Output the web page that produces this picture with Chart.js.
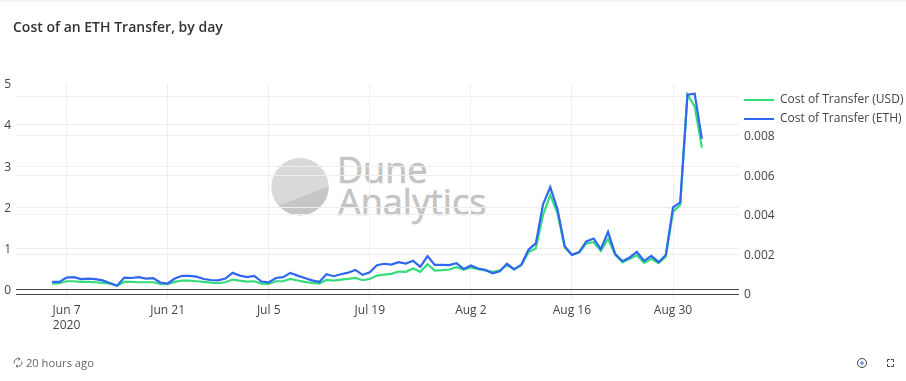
<!DOCTYPE html>
<html>
<head>
<meta charset="utf-8">
<title>Cost of an ETH Transfer, by day</title>
<script src="https://cdn.jsdelivr.net/npm/chart.js@4"></script>
<style>
html,body{margin:0;padding:0;background:#fff;width:906px;height:381px;overflow:hidden;font-family:"Open Sans",sans-serif}
#strip{position:absolute;left:0;top:0;width:906px;height:2px;background:#f5f5f5}
#mark{position:absolute;left:0;top:0;z-index:0}
#c{position:absolute;left:0;top:0;z-index:1}
#foot{position:absolute;left:13px;top:355px;font-size:11.2px;line-height:16px;color:#666;z-index:2;white-space:nowrap}
#foot svg{vertical-align:-1px;margin-right:0}
#icons{position:absolute;left:0;top:0;z-index:2}
</style>
</head>
<body>
<div id="strip"></div>
<svg id="mark" width="906" height="381">
  <circle cx="300" cy="186.7" r="28.7" fill="#d9d9d9"/>
  <path d="M278.500 205.500 L328.700 186.500 A28.700 28.700 0 0 1 278.500 205.500 Z" fill="#c6c6c6"/>
  <text x="337" y="183" font-family="Open Sans" font-size="36" fill="#c4c4c4" stroke="#c4c4c4" stroke-width="0.6">Dune</text>
  <text x="338" y="215" font-family="Open Sans" font-size="36" fill="#c4c4c4" stroke="#c4c4c4" stroke-width="0.6">Analytics</text>
</svg>
<canvas id="c" width="906" height="381"></canvas>
<div id="foot"><svg width="10" height="11" viewBox="0 0 10 11" fill="none" stroke="#666" stroke-width="1"><path d="M1.200 6.500A3.900 3.900 0 0 1 6.500 1.900M8.800 4.500A3.900 3.900 0 0 1 3.500 9.100"/><path d="M5.500 0.500L7 2L5.300 3.200M4.500 10.500L3 9L4.700 7.800"/></svg> 20 hours ago</div>
<svg id="icons" width="906" height="381" fill="none" stroke="#444" stroke-width="1">
  <circle cx="862" cy="363" r="4.500"/><path d="M860 363h4M862 361v4" stroke="#3a6fd8"/>
  <path d="M887.500 362v-2.500h2.500M891 359.500h2.500v2.500M893.500 364v2.500h-2.500M890 366.500h-2.500v-2.500"/>
</svg>
<script>
const titleText = "Cost of an ETH Transfer, by day";
const seriesNames = ["Cost of Transfer (USD)", "Cost of Transfer (ETH)"];

// Days counted from Jun 5 2020 (one value per day, Jun 5 - Sep 3)
const tickDays = [2, 16, 30, 44, 58, 72, 86];
const tickLabels = [["Jun 7", "2020"], "Jun 21", "Jul 5", "Jul 19", "Aug 2", "Aug 16", "Aug 30"];

const usdValues = [
  .146,.154,.203,.203,.187,.187,.179,.163,.146,.098,.187,.187,.179,.179,.179,.138,.13,.187,.22,.22,
  .203,.187,.171,.154,.179,.244,.22,.195,.203,.146,.138,.203,.203,.26,.22,.187,.163,.146,.236,.22,
  .244,.26,.285,.228,.26,.341,.366,.382,.439,
  .431,.512,.431,.618,.463,.472,.488,.545,.488,
  .537,.496,.463,.431,.463,.593,.496,.593,.911,1.0,
  1.813,2.3,1.854,1.024,.846,.902,1.122,1.154,.943,1.228,
  .846,.659,.748,.837,.65,.748,.642,.797,1.894,2.057,
  4.74,4.45,3.45
];
const ethValues = [
  .00061,.00061,.00083,.00085,.00075,.00078,.00075,.00069,.00056,.00042,.00083,.00081,.00085,.00078,.0008,.00058,.00053,.00078,.00092,.00092,
  .00088,.00076,.00071,.00069,.00078,.00107,.00093,.00086,.00092,.00063,.00059,.00081,.00085,.00107,.00093,.00081,.00069,.00061,.001,.0009,
  .001,.00108,.00122,.00097,.0011,.00146,.00153,.00149,.00161,
  .00154,.00168,.00137,.00192,.00147,.00147,.00146,.00156,.00127,
  .00144,.00129,.00122,.00105,.00115,.00153,.00125,.00149,.00225,.00256,
  .00454,.00541,.00429,.00242,.00198,.00212,.00266,.00281,.00227,.00314,
  .00202,.00166,.00185,.00214,.00168,.00193,.00161,.00197,.00439,.00464,
  .01009,.01014,.00785
];

const leftTicks = [0, 1, 2, 3, 4, 5];
const rightTicks = [0, 0.002, 0.004, 0.006, 0.008, 0.01];
const rightTickLabels = ["0", "0.002", "0.004", "0.006", "0.008", ""];

const GRID = "#eeeeee", ZERO = "#444444", TEXT = "#444444", FONT = "'Open Sans', sans-serif";
const toPoints = vals => vals.map((y, x) => ({x, y}));

const boxPlacer = {
  id: "boxPlacer",
  afterLayout(chart) {
    const l = chart.legend;
    const w = l.width, h = l.height;
    l.left = 737; l.right = 737 + w; l.top = 87; l.bottom = 87 + h;
    chart.titleBlock.left = 13;
  },
  beforeDraw(chart) {
    ["y", "y2"].forEach(id => {
      chart.scales[id].getLabelItems().forEach(item => { item.options.translation[1] += 1; });
    });
  }
};

new Chart(document.getElementById("c"), {
  type: "line",
  data: {
    datasets: [
      {label: seriesNames[0], data: toPoints(usdValues), yAxisID: "y", order: 2,
       borderColor: "#35dc7c", backgroundColor: "#35dc7c", borderWidth: 2.2, pointRadius: 0, tension: 0},
      {label: seriesNames[1], data: toPoints(ethValues), yAxisID: "y2", order: 1,
       borderColor: "#2f66f2", backgroundColor: "#2f66f2", borderWidth: 2.2, pointRadius: 0, tension: 0}
    ]
  },
  plugins: [boxPlacer],
  options: {
    responsive: false,
    animation: false,
    events: [],
    layout: {padding: 0},
    plugins: {
      title: {display: true, text: titleText, align: "start", color: "#333",
              font: {family: FONT, size: 14, weight: "600", lineHeight: 1.2},
              padding: {top: 20, bottom: 47}},
      legend: {position: "chartArea", align: "start",
               labels: {boxWidth: 30, boxHeight: 0, padding: 7, color: TEXT,
                        font: {family: FONT, size: 12},
                        sort: (a, b) => a.datasetIndex - b.datasetIndex}},
      tooltip: {enabled: false}
    },
    scales: {
      x: {
        type: "linear", min: -5, max: 95.14,
        border: {display: false},
        afterBuildTicks: a => { a.ticks = tickDays.map(value => ({value})); },
        afterFit: a => { a.height = 87; },
        grid: {color: GRID, tickColor: GRID, tickLength: 5, lineWidth: 1},
        ticks: {autoSkip: false, maxRotation: 0, padding: 4, color: TEXT,
                font: {family: FONT, size: 12, lineHeight: 1.25},
                callback: (v) => tickLabels[tickDays.indexOf(v)]}
      },
      y: {
        position: "left", min: -0.107, max: 5,
        border: {display: false},
        afterBuildTicks: a => { a.ticks = leftTicks.map(value => ({value})); },
        afterFit: a => { a.width = 16; },
        grid: {drawTicks: false, lineWidth: 1,
               color: c => c.tick.value === 0 ? ZERO : (c.tick.value === 5 ? "rgba(0,0,0,0)" : GRID)},
        ticks: {padding: 5, color: TEXT, font: {family: FONT, size: 12}, callback: v => String(v)}
      },
      y2: {
        position: "right", min: 0, max: 0.01064,
        border: {display: false},
        afterBuildTicks: a => { a.ticks = rightTicks.map(value => ({value})); },
        afterFit: a => { a.width = 167; },
        grid: {drawTicks: false, lineWidth: 1,
               color: c => c.tick.value === 0 ? ZERO : GRID},
        ticks: {padding: 5, color: TEXT, font: {family: FONT, size: 12},
                callback: v => rightTickLabels[rightTicks.indexOf(v)]}
      }
    }
  }
});
</script>
</body>
</html>
